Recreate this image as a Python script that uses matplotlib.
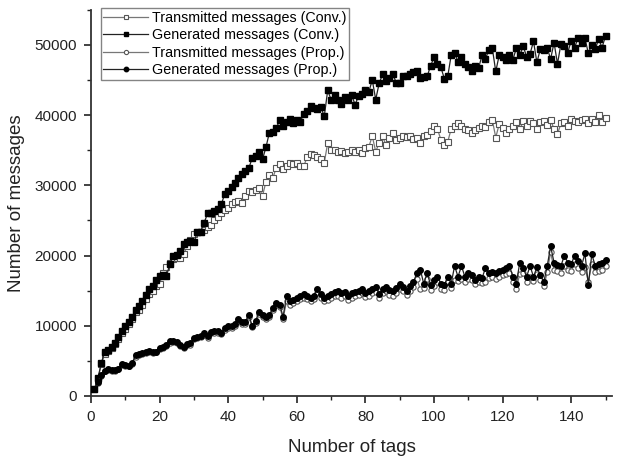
import matplotlib
matplotlib.use("Agg")
import matplotlib.pyplot as plt
import numpy as np

plt.rcParams['font.family'] = ['Liberation Sans', 'DejaVu Sans']

tags = list(range(1, 151))

gen_conv = [1000, 2500, 4700, 6300, 6600, 7000, 7600, 8400, 9300, 9900,
            10500, 11300, 12300, 12800, 13500, 14400, 15200, 15700, 16500, 17100,
            17200, 17100, 18800, 20000, 20100, 20700, 21700, 21900, 22000, 21900,
            23300, 23400, 24700, 26000, 26100, 26300, 26600, 27300, 28800, 29200,
            29800, 30300, 31100, 31600, 32100, 32400, 33900, 34200, 34700, 33700,
            35400, 37500, 37600, 38100, 39300, 38500, 39000, 39500, 38900, 39300,
            39000, 40200, 40600, 41300, 41000, 40900, 41200, 39800, 43500, 42200,
            42800, 42200, 41600, 42500, 42200, 42800, 41500, 42700, 43000, 43600,
            43300, 45000, 42200, 44500, 45800, 44800, 45300, 45800, 44600, 44500,
            45500, 45600, 45900, 46100, 46300, 45300, 45400, 45500, 47000, 48200,
            47200, 46800, 45200, 45500, 48500, 48800, 47600, 48200, 47300, 46800,
            46200, 47000, 46700, 48500, 48000, 49300, 49500, 46200, 48500, 48200,
            47900, 48600, 47900, 49500, 48500, 49800, 48300, 48700, 50500, 47500,
            49400, 49300, 49500, 48000, 50300, 47300, 50100, 49900, 48900, 50600,
            49600, 51000, 50200, 50900, 48800, 50000, 49400, 50800, 49600, 51300]

trans_conv = [950, 2400, 4500, 6000, 6400, 6800, 7400, 8100, 9000, 9600,
              10200, 11000, 11900, 12300, 13000, 13800, 14500, 15000, 15700, 16000,
              17500, 18400, 19000, 19500, 19700, 19700, 20200, 21300, 22200, 23000,
              23300, 23300, 23700, 24000, 24300, 25000, 25500, 26000, 26500, 26700,
              27300, 27600, 27800, 27500, 28500, 29200, 29000, 29300, 29600, 28500,
              30500, 31500, 31000, 32500, 33000, 32300, 32800, 33200, 33000, 33200,
              32800, 32700, 34000, 34500, 34300, 34000, 33800, 33200, 36000, 35000,
              35000, 34800, 34900, 34600, 34800, 35000, 34700, 35000, 34600, 35300,
              35500, 37000, 34800, 36000, 37000, 35700, 36700, 37500, 36500, 36800,
              37000, 36900, 37000, 36600, 36800, 36000, 37000, 37200, 37700, 38500,
              38000, 36500, 35800, 36200, 38000, 38500, 38800, 38500, 38000, 37800,
              37500, 37800, 38200, 38500, 38300, 39000, 39300, 36800, 38700, 38200,
              37500, 38000, 38400, 39000, 38000, 39100, 38500, 39200, 38800, 38000,
              39000, 39200, 38600, 39300, 38000, 37300, 38800, 39000, 38500, 39500,
              39200, 39000, 39300, 39500, 38800, 39400, 39000, 40000, 39000, 39600]

gen_prop = [1000, 2000, 3000, 3600, 3800, 3700, 3700, 3900, 4600, 4400,
            4300, 4700, 5800, 6000, 6100, 6300, 6400, 6200, 6300, 6900,
            7000, 7300, 7800, 7900, 7700, 7200, 7000, 7400, 7500, 8300,
            8400, 8600, 9000, 8500, 9100, 9300, 9200, 9000, 9700, 9900,
            10000, 10300, 11000, 10500, 10600, 11500, 10000, 10700, 12000, 11600,
            11200, 11500, 12500, 13300, 13000, 11300, 14200, 13500, 13700, 14000,
            14300, 14500, 14200, 14000, 14300, 15300, 14500, 14000, 14300, 14500,
            14800, 15000, 14600, 14800, 14300, 14600, 14800, 15000, 15200, 14700,
            15000, 15200, 15500, 14500, 15200, 15500, 15100, 15000, 15400, 16000,
            15500, 15000, 15700, 16200, 17500, 18000, 16000, 17500, 15800, 16500,
            17000, 16000, 15800, 17000, 16000, 18500, 17000, 18500, 17000, 17500,
            17200, 16500, 17000, 16800, 18200, 17500, 17600, 17500, 17800, 18000,
            18200, 18500, 17000, 16000, 19000, 18200, 17000, 18500, 17000, 18300,
            17200, 16200, 18500, 21300, 19000, 18700, 18500, 20000, 19000, 18800,
            20000, 19200, 18500, 20300, 15800, 20200, 18500, 18800, 19000, 19300]

trans_prop = [950, 1900, 2900, 3500, 3700, 3600, 3600, 3800, 4400, 4300,
              4200, 4600, 5600, 5900, 6000, 6100, 6200, 6100, 6200, 6700,
              6900, 7100, 7600, 7700, 7500, 7100, 6900, 7200, 7300, 8100,
              8200, 8400, 8700, 8300, 8900, 9000, 9000, 8800, 9400, 9700,
              9700, 10000, 10700, 10200, 10300, 11200, 9800, 10400, 11700, 11300,
              10900, 11200, 12200, 12900, 12700, 11000, 13500, 13000, 13200, 13500,
              13800, 14000, 13800, 13500, 13800, 14700, 14000, 13500, 13700, 14000,
              14200, 14300, 14000, 14200, 13600, 14000, 14200, 14400, 14600, 14100,
              14300, 14600, 14800, 13900, 14600, 14900, 14400, 14300, 14700, 15300,
              14900, 14400, 15000, 15500, 16700, 15200, 15400, 16700, 15100, 15700,
              16200, 15200, 15100, 16200, 15400, 16500, 16400, 16600, 16300, 16700,
              16500, 15900, 16300, 16100, 16300, 16800, 16900, 16700, 17000, 17200,
              17400, 17500, 16300, 15300, 17400, 17500, 16200, 17000, 16400, 17300,
              16500, 15600, 17600, 20500, 18000, 17800, 17500, 18500, 18000, 17800,
              18800, 18200, 17600, 18300, 16300, 18800, 17600, 17800, 18000, 18500]

labels = ["Transmitted messages (Conv.)", "Generated messages (Conv.)",
          "Transmitted messages (Prop.)", "Generated messages (Prop.)"]

fig = plt.figure(figsize=(6.17, 4.61), dpi=100)
ax = fig.add_axes([0.1475, 0.141, 0.845, 0.838])

ax.plot(tags, trans_conv, color='#777777', lw=0.9, marker='s', ms=3.8,
        mfc='white', mec='#555555', mew=0.8, label=labels[0], zorder=2)
ax.plot(tags, gen_conv, color='#222222', lw=0.9, marker='s', ms=4.0,
        mfc='black', mec='black', label=labels[1], zorder=3)
ax.plot(tags, trans_prop, color='#777777', lw=0.9, marker='o', ms=3.8,
        mfc='white', mec='#555555', mew=0.8, label=labels[2], zorder=2)
ax.plot(tags, gen_prop, color='#222222', lw=0.9, marker='o', ms=4.0,
        mfc='black', mec='black', label=labels[3], zorder=3)

ax.set_xlim(0, 152)
ax.set_ylim(0, 55000)
ax.set_xticks([0, 20, 40, 60, 80, 100, 120, 140])
ax.set_xticks([10, 30, 50, 70, 90, 110, 130, 150], minor=True)
ax.set_yticks([0, 10000, 20000, 30000, 40000, 50000])
ax.set_yticks([5000, 15000, 25000, 35000, 45000, 55000], minor=True)
ax.tick_params(which='major', direction='out', length=5, width=1.2, labelsize=11,
               colors='#222222', pad=5)
ax.tick_params(which='minor', direction='out', length=3, width=1.0, colors='#222222')
ax.spines['top'].set_visible(False)
ax.spines['right'].set_visible(False)
for s in ('left', 'bottom'):
    ax.spines[s].set_linewidth(1.3)
    ax.spines[s].set_color('#333333')

ax.set_xlabel("Number of tags", fontsize=13.5, labelpad=11, color='#222222')
ax.set_ylabel("Number of messages", fontsize=13.5, labelpad=7, color='#222222')

leg = ax.legend(loc='upper left', bbox_to_anchor=(0.01, 1.016), fontsize=10.3,
                frameon=True, fancybox=False, edgecolor='#666666',
                handlelength=3.1, handletextpad=0.3, borderpad=0.2,
                labelspacing=0.25, markerscale=0.8, borderaxespad=0.3)
leg.get_frame().set_linewidth(1.0)

fig.savefig("out.png", dpi=100)
